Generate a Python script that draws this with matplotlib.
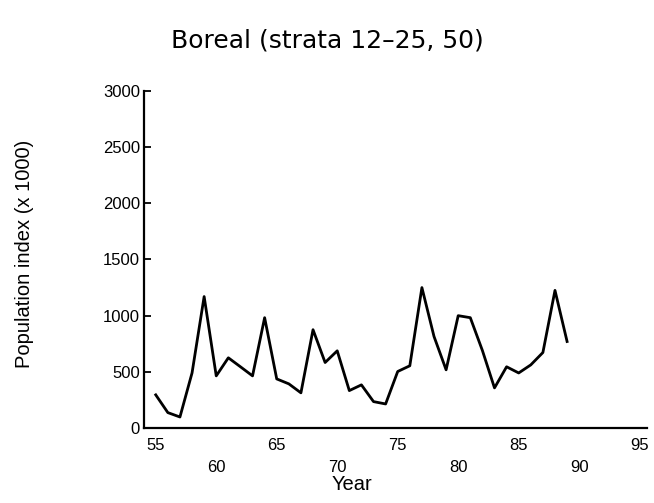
import matplotlib.pyplot as plt

years = list(range(1955, 1990))
index = [295, 137, 98, 490, 1170, 464, 625, 545, 464, 982, 437, 393, 313, 875,
         583, 687, 333, 384, 235, 214, 503, 554, 1250, 815, 518, 1000, 982, 690,
         357, 545, 490, 562, 672, 1225, 770]

upper_ticks = [55, 65, 75, 85, 95]
lower_ticks = [60, 70, 80, 90]

plt.rcParams['font.family'] = ['Liberation Sans', 'DejaVu Sans']

fig = plt.figure(figsize=(6.54, 5.03), dpi=100)
ax = fig.add_axes([0.2202, 0.1491, 0.769, 0.670])

x = [y - 1900 for y in years]
ax.plot(x, index, color='black', lw=2.0)

ax.set_xlim(54.03, 95.6)
ax.set_ylim(0, 3000)
ax.spines['top'].set_visible(False)
ax.spines['right'].set_visible(False)
ax.spines['left'].set_linewidth(1.6)
ax.spines['bottom'].set_linewidth(1.6)

ax.set_yticks(range(0, 3001, 500))
ax.tick_params(axis='y', direction='in', length=5, width=1.3, pad=3, labelsize=12)

# staggered year labels
ax.set_xticks(upper_ticks)
ax.set_xticks(lower_ticks, minor=True)
ax.set_xticklabels([str(t) for t in upper_ticks])
ax.set_xticklabels([str(t) for t in lower_ticks], minor=True)
ax.tick_params(axis='x', which='major', length=0, pad=7, labelsize=12)
ax.tick_params(axis='x', which='minor', length=0, pad=23, labelsize=12)

fig.text(0.5, 0.92, "Boreal (strata 12\u201325, 50)", ha='center', va='center',
         fontsize=18, family=['DejaVu Sans'])
fig.text(352 / 654, 1 - 485 / 503, "Year", ha='center', va='center', fontsize=14.5)
fig.text(25 / 654, 1 - 254 / 503, "Population index (x 1000)", ha='center', va='center',
         rotation=90, fontsize=14.5)

fig.savefig("out.png", dpi=100)
